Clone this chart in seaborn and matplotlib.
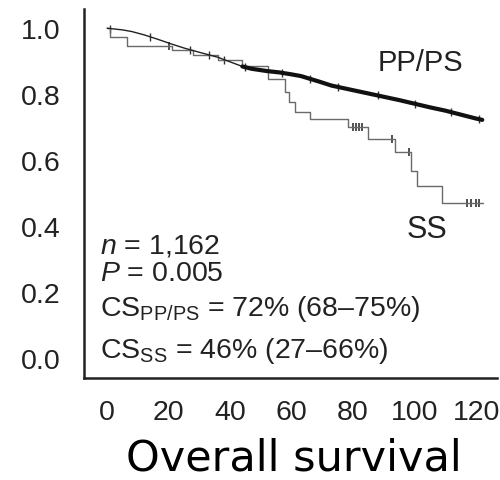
import numpy as np
import pandas as pd
import matplotlib
matplotlib.use("Agg")
import matplotlib.pyplot as plt
import seaborn as sns

# survival curves (months, survival proportion)
pp_time = [0, 5, 8, 12, 16, 21, 25, 30, 36, 40, 44, 47, 52, 56, 60, 63, 69, 73, 80, 85, 89, 95, 100, 105, 110, 115, 120, 122]
pp_surv = [1.0, 0.995, 0.99, 0.98, 0.968, 0.952, 0.94, 0.927, 0.912, 0.898, 0.884, 0.877, 0.870, 0.866, 0.860, 0.855, 0.838, 0.826, 0.812, 0.802, 0.794, 0.782, 0.771, 0.760, 0.750, 0.738, 0.726, 0.722]

ss_time = [0, 1, 6.5, 21, 28, 36, 44, 52.4, 57.9, 59.2, 61.1, 66, 78.4, 84.9, 93.7, 98.9, 100.8, 109, 122.3]
ss_surv = [1.0, 0.973, 0.945, 0.935, 0.918, 0.905, 0.885, 0.845, 0.806, 0.776, 0.745, 0.724, 0.70, 0.664, 0.624, 0.567, 0.521, 0.47, 0.47]
ss_censor = [20, 80, 81, 82, 83, 92.5, 98.2, 117, 118.5, 120, 121]
pp_censor = [1, 14, 27, 33, 38, 45, 57, 66, 75, 88, 100, 112, 121]

x_ticks = [0, 20, 40, 60, 80, 100, 120]
y_ticks = [0.0, 0.2, 0.4, 0.6, 0.8, 1.0]


def step_value(times, surv, t):
    i = np.searchsorted(times, t, side="right") - 1
    return surv[max(i, 0)]


pp = pd.DataFrame({"t": pp_time, "s": pp_surv})
ss = pd.DataFrame({"t": ss_time, "s": ss_surv})
ss_c = pd.DataFrame({"t": ss_censor, "s": [step_value(ss_time, ss_surv, t) for t in ss_censor]})
pp_c = pd.DataFrame({"t": pp_censor, "s": np.interp(pp_censor, pp_time, pp_surv)})

sns.set_style("white")
plt.rcParams["font.family"] = ["Liberation Sans", "DejaVu Sans"]
plt.rcParams["mathtext.fontset"] = "custom"
plt.rcParams["mathtext.rm"] = "Liberation Sans"
plt.rcParams["mathtext.it"] = "Liberation Sans:italic"

fig = plt.figure(figsize=(5, 4.81), dpi=100)
ax = fig.add_axes([0.168, 0.212, 0.826, 0.767])

sns.lineplot(data=ss, x="t", y="s", ax=ax, color="#6a6a6a", lw=1.0,
             drawstyle="steps-post", estimator=None, sort=False)
sns.lineplot(data=pp, x="t", y="s", ax=ax, color="#222222", lw=1.0,
             estimator=None, sort=False)
# heavily censored part of PP/PS looks like a thick band
sns.lineplot(data=pp[pp["t"] >= 44], x="t", y="s", ax=ax, color="#111111", lw=3.0,
             estimator=None, sort=False)
sns.scatterplot(data=ss_c, x="t", y="s", ax=ax, marker="|", s=40, color="#333333", linewidth=1.2)
sns.scatterplot(data=pp_c, x="t", y="s", ax=ax, marker="|", s=40, color="#333333", linewidth=1.0)

ax.set_xlim(-7.5, 126.8)
ax.set_ylim(-0.061, 1.058)
ax.set_xticks(x_ticks)
ax.set_yticks(y_ticks)
ax.set_xticklabels([str(v) for v in x_ticks])
ax.set_yticklabels([f"{v:.1f}" for v in y_ticks])
ax.set_xlabel("")
ax.set_ylabel("")
ax.tick_params(axis="both", direction="out", length=11, width=1.8, labelsize=20.5,
               colors="#222222", pad=4)
ax.tick_params(axis="y", pad=6)
for side in ["top", "right"]:
    ax.spines[side].set_visible(False)
for side in ["left", "bottom"]:
    ax.spines[side].set_linewidth(1.8)
    ax.spines[side].set_color("#222222")

ax.text(101.8, 0.897, "PP/PS", fontsize=21, ha="center", va="center", color="#222222")
ax.text(104, 0.391, "SS", fontsize=22, ha="center", va="center", color="#222222")

ax.text(-2.3, 0.342, r"$n$ = 1,162", fontsize=20.5, ha="left", va="center", color="#222222")
ax.text(-2.3, 0.258, r"$P$ = 0.005", fontsize=20.5, ha="left", va="center", color="#222222")
ax.text(-2.3, 0.150, r"CS$_{\mathrm{PP/PS}}$ = 72% (68–75%)", fontsize=20.5, ha="left", va="center", color="#222222")
ax.text(-2.3, 0.025, r"CS$_{\mathrm{SS}}$ = 46% (27–66%)", fontsize=20.5, ha="left", va="center", color="#222222")

fig.text(0.588, 0.004, "Overall survival", fontsize=31, ha="center", va="bottom",
         family="DejaVu Sans", color="black")

fig.savefig("out.png", dpi=100)
